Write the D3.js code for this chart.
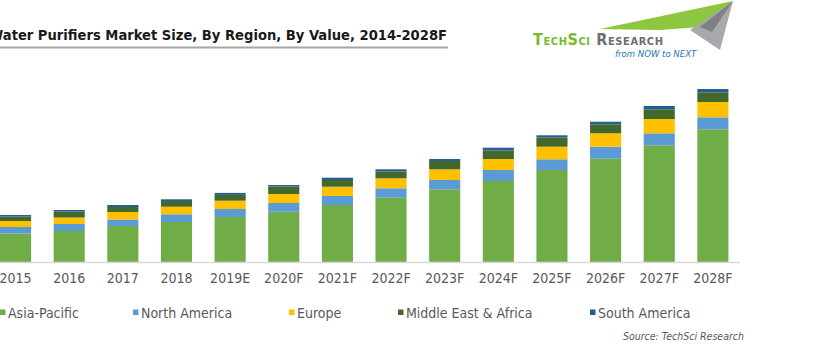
<!DOCTYPE html>
<html>
  <head>
    <meta charset="utf-8" />
    <title>Water Purifiers Market Size</title>
    <script src="https://d3js.org/d3.v7.min.js"></script>
    <style>
        body { margin:0; background:#fff; }
        text { font-family: "DejaVu Sans Condensed", "DejaVu Sans", sans-serif; font-stretch: condensed; }
    </style>
  </head>
  <body>
    <svg id="viz"></svg>
    <script>
    var width = 820;
    var height = 350;

    // data (arbitrary value units)
    var years = ["2014","2015","2016","2017","2018","2019E","2020F","2021F","2022F","2023F","2024F","2025F","2026F","2027F","2028F"];
    var asiaPacific   = [26, 28.5, 31, 36, 40, 45, 50.3, 57, 64.3, 72.7, 81, 92, 103.3, 116.7, 132.7];
    var northAmerica  = [6, 6.5, 7, 6.5, 7.7, 8, 8.7, 9, 9.4, 9.3, 11, 10.7, 12, 12, 12];
    var europe        = [5.5, 6, 6.5, 7.5, 7.6, 8.3, 9, 9.3, 10, 10.7, 11, 12.6, 13.4, 14.3, 15.3];
    var middleEast    = [4.5, 4.5, 6, 5, 5.7, 5.8, 7.5, 6.7, 6.8, 8.3, 8.5, 9.2, 9, 9.7, 9.7];
    var southAmerica  = [1.5, 1.5, 1.5, 2, 1.7, 2, 1.5, 2.3, 2.2, 2, 2.8, 2.2, 2.6, 3.3, 3.3];

    var seriesNames = ["Asia-Pacific", "North America", "Europe", "Middle East & Africa", "South America"];
    var colors = ["#70ad47", "#5b9bd5", "#ffc000", "#43682b", "#255e91"];
    var seriesValues = [asiaPacific, northAmerica, europe, middleEast, southAmerica];

    var table = years.map(function(y, i) {
      var row = {year: y};
      seriesNames.forEach(function(s, j) { row[s] = seriesValues[j][i]; });
      return row;
    });

    var svg = d3.select("#viz")
      .attr("width", width)
      .attr("height", height);

    // title (left part runs off the page like the reference)
    svg.append("text")
      .attr("x", 447)
      .attr("y", 40)
      .attr("text-anchor", "end")
      .attr("font-weight", "bold")
      .attr("font-size", 14.6)
      .attr("fill", "#1a1a1a")
      .text("Water Purifiers Market Size, By Region, By Value, 2014-2028F");

    svg.append("line")
      .attr("x1", 0).attr("x2", 448)
      .attr("y1", 47.5).attr("y2", 47.5)
      .attr("stroke", "#a6a6a6")
      .attr("stroke-width", 2);

    // logo
    var logo = svg.append("g");
    logo.append("path")
      .attr("d", "M600,29 L733,1 L700,27 L660,30 Z")
      .attr("fill", "#8dc63f");
    logo.append("path")
      .attr("d", "M690,30 L733,1 L720,50 Z")
      .attr("fill", "#a7a9ac");
    logo.append("path")
      .attr("d", "M700,27 L733,1 L712,32 Z")
      .attr("fill", "#7d8184");
    logo.append("text")
      .attr("x", 533).attr("y", 45)
      .attr("font-size", 16)
      .attr("font-weight", "bold")
      .attr("font-variant", "small-caps")
      .attr("letter-spacing", 0.6)
      .selectAll("tspan")
      .data([["TechSci ", "#7ab929"], ["Research", "#6d6e71"]])
      .enter().append("tspan")
      .attr("fill", function(d) { return d[1]; })
      .text(function(d) { return d[0]; });
    logo.append("text")
      .attr("x", 615).attr("y", 57)
      .attr("font-size", 9.5)
      .attr("font-style", "italic")
      .attr("fill", "#1f76b5")
      .text("from NOW to NEXT");

    var x = d3.scaleBand()
      .domain(years)
      .range([-64.9, 739.7])
      .paddingInner(0.42)
      .paddingOuter(0.21);

    var y = d3.scaleLinear()
      .domain([0, 174])
      .range([262, 88]);

    var stack = d3.stack().keys(seriesNames);
    var layers = stack(table);

    svg.append("g")
      .selectAll("g")
      .data(layers)
      .enter().append("g")
      .attr("fill", function(d, i) { return colors[i]; })
      .selectAll("rect")
      .data(function(d) { return d; })
      .enter().append("rect")
      .attr("x", function(d) { return x(d.data.year); })
      .attr("width", x.bandwidth())
      .attr("y", function(d) { return y(d[1]); })
      .attr("height", function(d) { return y(d[0]) - y(d[1]); });

    var xAxis = svg.append("g")
      .attr("transform", "translate(0,262)")
      .call(d3.axisBottom(x).tickSize(0).tickPadding(11));
    xAxis.select(".domain").attr("stroke", "#d9d9d9").attr("stroke-width", 1.5);
    xAxis.selectAll("text")
      .attr("font-size", 14)
      .attr("fill", "#595959")
      .style("font-family", "'DejaVu Sans Condensed', 'DejaVu Sans', sans-serif");

    // legend
    var legendX = [0, 133, 289, 398, 590];
    var legend = svg.append("g")
      .selectAll("g")
      .data(seriesNames)
      .enter().append("g")
      .attr("transform", function(d, i) { return "translate(" + legendX[i] + ",309)"; });
    legend.append("rect")
      .attr("width", 5.5).attr("height", 5.5)
      .attr("y", 0.5)
      .attr("fill", function(d, i) { return colors[i]; });
    legend.append("text")
      .attr("x", 8)
      .attr("y", 9)
      .attr("font-size", 14)
      .attr("fill", "#595959")
      .text(function(d) { return d; });

    svg.append("text")
      .attr("x", 744).attr("y", 340)
      .attr("text-anchor", "end")
      .attr("font-size", 10.5)
      .attr("font-style", "italic")
      .attr("fill", "#595959")
      .text("Source: TechSci Research");
    </script>
  </body>
</html>
